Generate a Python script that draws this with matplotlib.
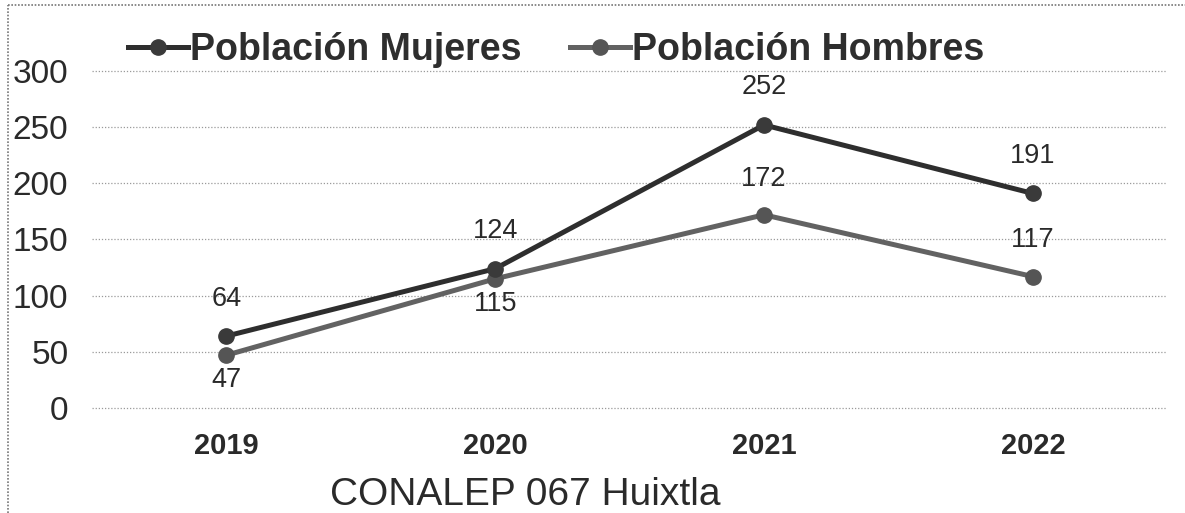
import matplotlib
matplotlib.use("Agg")
import matplotlib.pyplot as plt
from matplotlib.lines import Line2D

# data
years = ["2019", "2020", "2021", "2022"]
mujeres = [64, 124, 252, 191]
hombres = [47, 115, 172, 117]
# label placement: +1 above the point, -1 below
mujeres_pos = [1, 1, 1, 1]
hombres_pos = [-1, -1, 1, 1]

plt.rcParams['font.family'] = ['Liberation Sans', 'DejaVu Sans']

fig = plt.figure(figsize=(11.85, 5.13), dpi=100)
ax = fig.add_axes([0.0776, 0.2047, 0.9074, 0.6569])

x = list(range(len(years)))

# dark series (mujeres) and lighter gray series (hombres)
ax.plot(x, hombres, color='#626262', lw=3.6, marker='o', markersize=11,
        markerfacecolor='#555555', markeredgecolor='#555555', label='Población Hombres', zorder=3)
ax.plot(x, mujeres, color='#2e2e2e', lw=3.6, marker='o', markersize=11,
        markerfacecolor='#3a3a3a', markeredgecolor='#3a3a3a', label='Población Mujeres', zorder=4)

# data labels
for xi, v, p in zip(x, mujeres, mujeres_pos):
    ax.annotate(str(v), (xi, v), xytext=(0, 27 if p > 0 else -17), textcoords='offset points',
                ha='center', va='center', fontsize=19.5, color='#2a2a2a')
for xi, v, p in zip(x, hombres, hombres_pos):
    ax.annotate(str(v), (xi, v), xytext=(0, 26 if p > 0 else -18), textcoords='offset points',
                ha='center', va='center', fontsize=19.5, color='#2a2a2a')

ax.set_xlim(-0.5, 3.5)
ax.set_ylim(0, 300)
ax.set_yticks(range(0, 301, 50))
ax.set_xticks(x)
ax.set_xticklabels(years, fontweight='bold', fontsize=21, color='#2a2a2a')
ax.tick_params(axis='y', labelsize=24, length=0, pad=17, labelcolor='#2a2a2a')
ax.tick_params(axis='x', length=0, pad=17)

ax.grid(axis='y', color='#9a9a9a', linestyle=(0, (1, 1.5)), lw=0.9)
ax.set_axisbelow(True)
for gl in ax.get_ygridlines():
    gl.set_clip_on(False)
for s in ax.spines.values():
    s.set_visible(False)

# legend across the top
handles, labels = ax.get_legend_handles_labels()
leg = fig.legend(handles[::-1], labels[::-1], loc='center', bbox_to_anchor=(0.469, 0.9025),
                 ncol=2, frameon=False, handlelength=1.6, handletextpad=0.05,
                 columnspacing=1.3, prop={'weight': 'bold', 'size': 27})
for t in leg.get_texts():
    t.set_color('#2e2e2e')

fig.text(0.443, 0.035, "CONALEP 067 Huixtla", ha='center', va='center', fontsize=28, color='#2a2a2a')

# dotted outer frame (left and top edges visible in the scan)
fig.add_artist(Line2D([0.007, 0.007], [0.0, 0.99], transform=fig.transFigure,
                      color='#777777', lw=1.2, linestyle=(0, (1, 1))))
fig.add_artist(Line2D([0.007, 1.0], [0.99, 0.99], transform=fig.transFigure,
                      color='#777777', lw=1.2, linestyle=(0, (1, 1))))

fig.savefig("out.png", dpi=100, facecolor='white')
